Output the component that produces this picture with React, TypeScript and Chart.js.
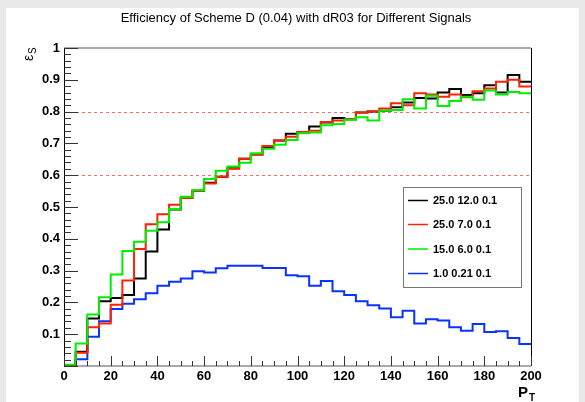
import React, { useEffect, useRef } from "react";
import { Chart, registerables } from "chart.js";

Chart.register(...registerables);

const TITLE = "Efficiency of Scheme D (0.04) with dR03 for Different Signals";
const BIN_WIDTH = 5;
const X_MIN = 0;
const X_MAX = 200;
const Y_MIN = 0;
const Y_MAX = 1;

const legendLabels = ["25.0 12.0 0.1", "25.0 7.0 0.1", "15.0 6.0 0.1", "1.0 0.21 0.1"];
const seriesColors = ["#000000", "#ff2200", "#00ee00", "#0a32ff"];

const black = [
  0, 0.045, 0.149, 0.204, 0.214, 0.223, 0.275, 0.36, 0.429, 0.492,
  0.528, 0.551, 0.576, 0.595, 0.622, 0.652, 0.665, 0.688, 0.709, 0.73,
  0.736, 0.753, 0.766, 0.78, 0.776, 0.797, 0.8, 0.803, 0.814, 0.829,
  0.843, 0.841, 0.86, 0.871, 0.852, 0.858, 0.883, 0.86, 0.915, 0.894,
];
const red = [
  0, 0.042, 0.122, 0.134, 0.193, 0.269, 0.368, 0.446, 0.477, 0.507,
  0.528, 0.551, 0.574, 0.595, 0.62, 0.652, 0.665, 0.692, 0.709, 0.721,
  0.736, 0.74, 0.767, 0.772, 0.776, 0.797, 0.8, 0.81, 0.826, 0.82,
  0.858, 0.854, 0.847, 0.854, 0.845, 0.864, 0.873, 0.894, 0.9, 0.879,
];
const green = [
  0.004, 0.071, 0.162, 0.216, 0.288, 0.362, 0.391, 0.425, 0.452, 0.494,
  0.532, 0.553, 0.588, 0.614, 0.627, 0.639, 0.669, 0.683, 0.696, 0.711,
  0.732, 0.734, 0.757, 0.761, 0.774, 0.782, 0.772, 0.803, 0.805, 0.839,
  0.81, 0.85, 0.818, 0.833, 0.847, 0.837, 0.866, 0.854, 0.862, 0.858,
];
const blue = [
  0, 0.021, 0.092, 0.141, 0.179, 0.196, 0.21, 0.229, 0.252, 0.265,
  0.275, 0.298, 0.294, 0.307, 0.315, 0.315, 0.315, 0.308, 0.308, 0.285,
  0.282, 0.252, 0.267, 0.235, 0.223, 0.204, 0.191, 0.181, 0.153, 0.174,
  0.134, 0.147, 0.143, 0.122, 0.111, 0.132, 0.107, 0.109, 0.088, 0.069,
];
const refLines = [0.8, 0.6];

const FONT = "'Liberation Sans', Arial, sans-serif";

function toSteps(values: number[]) {
  const pts = values.map((v, i) => ({ x: X_MIN + i * BIN_WIDTH, y: v }));
  pts.push({ x: X_MIN + values.length * BIN_WIDTH, y: values[values.length - 1] });
  return pts;
}

const rootPlugin = {
  id: "rootStyle",
  beforeDraw(chart: any) {
    const ctx = chart.ctx;
    ctx.save();
    ctx.fillStyle = "#e8e8e8";
    ctx.fillRect(0, 0, chart.width, chart.height);
    ctx.fillStyle = "#ffffff";
    ctx.fillRect(6, 8, 573, chart.height - 8);
    ctx.fillStyle = "#000";
    ctx.font = `13px ${FONT}`;
    ctx.textAlign = "center";
    ctx.textBaseline = "middle";
    ctx.fillText(TITLE, 296, 18);
    ctx.restore();
  },
  beforeDatasetsDraw(chart: any) {
    const ctx = chart.ctx;
    const { left, right } = chart.chartArea;
    const ys = chart.scales.y;
    ctx.save();
    ctx.strokeStyle = "rgba(255,60,40,0.75)";
    ctx.lineWidth = 1;
    ctx.setLineDash([3, 3]);
    refLines.forEach((v) => {
      const y = Math.round(ys.getPixelForValue(v)) + 0.5;
      ctx.beginPath();
      ctx.moveTo(left, y);
      ctx.lineTo(right, y);
      ctx.stroke();
    });
    ctx.restore();
  },
  afterDraw(chart: any) {
    const ctx = chart.ctx;
    const { left, right, top, bottom } = chart.chartArea;
    const xs = chart.scales.x;
    const ys = chart.scales.y;
    ctx.save();
    ctx.lineWidth = 1;
    ctx.strokeStyle = "#000";
    ctx.beginPath();
    ctx.moveTo(Math.round(left) + 0.5, top);
    ctx.lineTo(Math.round(left) + 0.5, bottom);
    ctx.moveTo(Math.round(right) + 0.5, top);
    ctx.lineTo(Math.round(right) + 0.5, bottom);
    ctx.stroke();
    ctx.strokeStyle = "#555";
    ctx.beginPath();
    ctx.moveTo(left, Math.round(top));
    ctx.lineTo(right, Math.round(top));
    ctx.moveTo(left, Math.round(bottom));
    ctx.lineTo(right, Math.round(bottom));
    ctx.stroke();
    ctx.strokeStyle = "#333";
    ctx.beginPath();
    for (let k = 0; k <= 50; k++) {
      const v = Y_MIN + k * 0.02;
      const y = Math.round(ys.getPixelForValue(v)) + 0.5;
      const len = k % 5 === 0 ? 14 : 7;
      ctx.moveTo(left, y);
      ctx.lineTo(left + len, y);
    }
    for (let k = 0; k <= 40; k++) {
      const v = X_MIN + k * 5;
      const x = Math.round(xs.getPixelForValue(v)) + 0.5;
      const len = k % 4 === 0 ? 10 : 5;
      ctx.moveTo(x, bottom);
      ctx.lineTo(x, bottom - len);
    }
    ctx.stroke();

    const lx = 403, ly = 187, lw = 118, lh = 100;
    ctx.fillStyle = "#fff";
    ctx.fillRect(lx, ly, lw, lh);
    ctx.strokeStyle = "#777";
    ctx.lineWidth = 1;
    ctx.strokeRect(lx + 0.5, ly + 0.5, lw, lh);
    const rowYs = [200.5, 224.5, 249, 273.5];
    legendLabels.forEach((lab, i) => {
      const y = rowYs[i];
      ctx.strokeStyle = seriesColors[i];
      ctx.lineWidth = 1.5;
      ctx.beginPath();
      ctx.moveTo(408, y);
      ctx.lineTo(428, y);
      ctx.stroke();
      ctx.fillStyle = "#000";
      ctx.font = `bold 11px ${FONT}`;
      ctx.textAlign = "left";
      ctx.textBaseline = "middle";
      ctx.fillText(lab, 433, y + 0.5);
    });

    ctx.fillStyle = "#000";
    ctx.textAlign = "left";
    ctx.textBaseline = "alphabetic";
    ctx.font = `bold 15px ${FONT}`;
    ctx.fillText("P", 518, 397);
    ctx.font = `bold 10px ${FONT}`;
    ctx.fillText("T", 529, 401);

    ctx.save();
    ctx.translate(33, 61);
    ctx.rotate(-Math.PI / 2);
    ctx.font = `14px ${FONT}`;
    ctx.fillText("\u03b5", 0, 0);
    ctx.font = `10px ${FONT}`;
    ctx.fillText("S", 7, 3);
    ctx.restore();
    ctx.restore();
  },
};

export default function App() {
  const ref = useRef<HTMLCanvasElement | null>(null);
  useEffect(() => {
    document.body.style.margin = "0";
    const canvas = ref.current;
    if (!canvas) return;
    const mk = (label: string, vals: number[], color: string, order: number) => ({
      label,
      data: toSteps(vals),
      borderColor: color,
      backgroundColor: color,
      borderWidth: 2,
      pointRadius: 0,
      stepped: "before" as const,
      fill: false,
      order,
    });
    const chart = new Chart(canvas, {
      type: "line",
      data: {
        datasets: [
          mk(legendLabels[0], black, seriesColors[0], 2),
          mk(legendLabels[1], red, seriesColors[1], 1),
          mk(legendLabels[2], green, seriesColors[2], 0),
          mk(legendLabels[3], blue, seriesColors[3], 3),
        ],
      },
      options: {
        responsive: false,
        animation: false,
        devicePixelRatio: 1,
        layout: { padding: { top: 48, right: 54, bottom: 0, left: 0 } },
        plugins: { legend: { display: false }, title: { display: false }, tooltip: { enabled: false } },
        scales: {
          x: {
            type: "linear",
            min: X_MIN,
            max: X_MAX,
            grid: { display: false, drawTicks: false },
            border: { display: false },
            ticks: {
              stepSize: 20,
              autoSkip: false,
              maxRotation: 0,
              padding: 3,
              color: "#000",
              font: { family: FONT, size: 13, weight: "bold" },
            },
            afterFit: (s: any) => {
              s.height = 36;
            },
          },
          y: {
            type: "linear",
            min: Y_MIN,
            max: Y_MAX,
            grid: { display: false, drawTicks: false },
            border: { display: false },
            ticks: {
              stepSize: 0.1,
              padding: 4,
              color: "#000",
              font: { family: FONT, size: 13, weight: "bold" },
              callback: (v: any) => {
                const n = Math.round(Number(v) * 10) / 10;
                return n === 0 ? "" : String(n);
              },
            },
            afterFit: (s: any) => {
              s.width = 64;
            },
          },
        },
      },
      plugins: [rootPlugin],
    });
    return () => chart.destroy();
  }, []);
  return <canvas ref={ref} width={585} height={402} style={{ display: "block" }} />;
}
